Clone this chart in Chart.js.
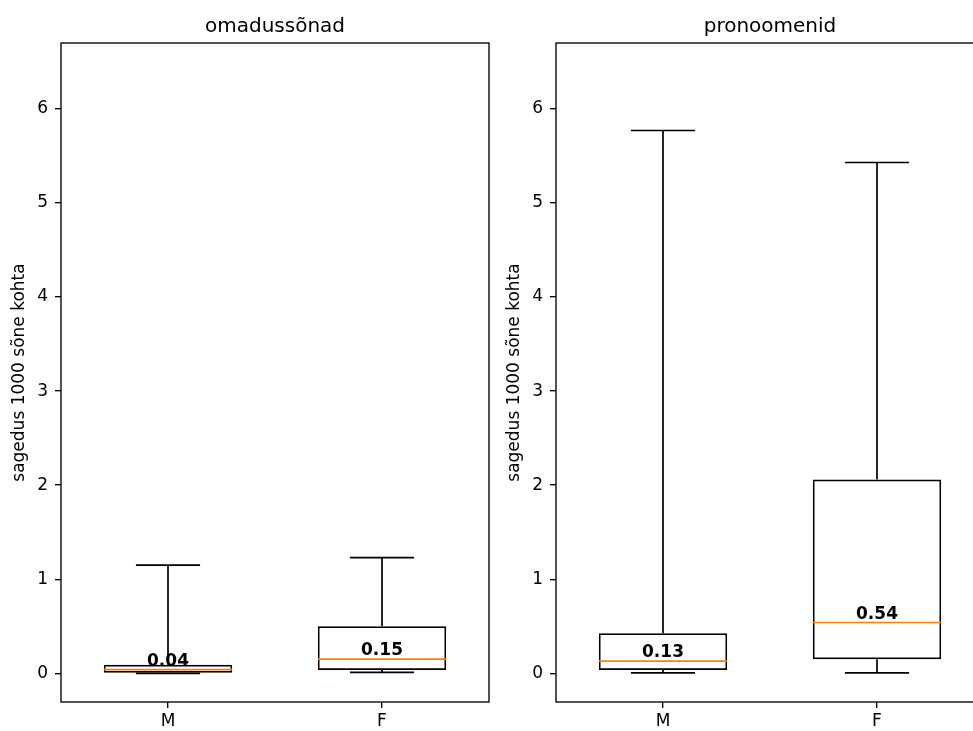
<!DOCTYPE html>
<html>
<head>
<meta charset="utf-8">
<script src="https://cdn.jsdelivr.net/npm/chart.js@4.4.1/dist/chart.umd.min.js"></script>
<style>
  html, body { margin: 0; padding: 0; background: #fff; overflow: hidden; }
  #wrap { position: relative; width: 973px; height: 731px; overflow: hidden; }
  .panel { position: absolute; top: 0; width: 490px; height: 731px; }
</style>
</head>
<body>
<div id="wrap">
  <div class="panel" style="left:0"><canvas id="adj"></canvas></div>
  <div class="panel" style="left:495px"><canvas id="pron"></canvas></div>
</div>
<script>
// --- data ---
const groups = ["M", "F"];
const yTicks = [0, 1, 2, 3, 4, 5, 6];
const yLabel = "sagedus 1000 sõne kohta";

// omadussõnad: whisker low, Q1, median, Q3, whisker high
const adjLow = [0.0, 0.01];
const adjQ1 = [0.0, 0.035];
const adjMedian = [0.04, 0.15];
const adjQ3 = [0.09, 0.5];
const adjHigh = [1.15, 1.23];

// pronoomenid
const pronLow = [0.005, 0.005];
const pronQ1 = [0.035, 0.15];
const pronMedian = [0.13, 0.54];
const pronQ3 = [0.425, 2.06];
const pronHigh = [5.77, 5.43];

const FONT = "DejaVu Sans";
Chart.defaults.font.family = FONT;
Chart.defaults.color = "#000";

// whiskers, caps, medians, median labels and the axes frame
const boxExtras = {
  id: "boxExtras",
  afterDatasetsDraw(chart, args, opts) {
    const { ctx, chartArea: a, scales: { y } } = chart;
    const bars = chart.getDatasetMeta(0).data;
    ctx.save();
    bars.forEach((bar, i) => {
      const half = bar.width / 2;
      const cap = bar.width / 4;
      const yLo = y.getPixelForValue(opts.low[i]);
      const yQ1 = y.getPixelForValue(opts.q1[i]);
      const yQ3 = y.getPixelForValue(opts.q3[i]);
      const yHi = y.getPixelForValue(opts.high[i]);
      const yMed = y.getPixelForValue(opts.median[i]);

      ctx.strokeStyle = "#000";
      ctx.lineWidth = 1.7;
      ctx.beginPath();
      ctx.moveTo(bar.x, yQ3); ctx.lineTo(bar.x, yHi);
      ctx.moveTo(bar.x, yQ1); ctx.lineTo(bar.x, yLo);
      ctx.moveTo(bar.x - cap, yHi); ctx.lineTo(bar.x + cap, yHi);
      ctx.moveTo(bar.x - cap, yLo); ctx.lineTo(bar.x + cap, yLo);
      ctx.stroke();

      ctx.strokeStyle = "#ff7f0e";
      ctx.beginPath();
      ctx.moveTo(bar.x - half, yMed); ctx.lineTo(bar.x + half, yMed);
      ctx.stroke();

      ctx.fillStyle = "#000";
      ctx.font = "bold 17px '" + FONT + "'";
      ctx.textAlign = "center";
      ctx.textBaseline = "alphabetic";
      ctx.fillText(opts.median[i].toFixed(2), bar.x, yMed - 4);
    });
    ctx.strokeStyle = "#000";
    ctx.lineWidth = 1.35;
    ctx.strokeRect(a.left, a.top, a.right - a.left, a.bottom - a.top);
    ctx.restore();
  }
};

function makePanel(id, title, low, q1, median, q3, high) {
  const ctx = document.getElementById(id).getContext("2d");
  return new Chart(ctx, {
    type: "bar",
    data: {
      labels: groups,
      datasets: [{
        data: q1.map((v, i) => [v, q3[i]]),
        backgroundColor: "rgba(0,0,0,0)",
        borderColor: "#000",
        borderWidth: 1.7,
        borderSkipped: false,
        barPercentage: 0.6,
        categoryPercentage: 1.0
      }]
    },
    options: {
      responsive: true,
      maintainAspectRatio: false,
      animation: false,
      layout: { padding: { left: 0, right: 1, top: 0, bottom: 0 } },
      plugins: {
        legend: { display: false },
        tooltip: { enabled: false },
        title: {
          display: true,
          text: title,
          fullSize: false,
          font: { size: 20, weight: "normal" },
          color: "#000",
          padding: { top: 15, bottom: 4 }
        },
        boxExtras: { low, q1, median, q3, high }
      },
      scales: {
        x: {
          offset: true,
          grid: { offset: false, drawOnChartArea: false, drawTicks: true, tickLength: 6, color: "#000", lineWidth: 1.35 },
          border: { display: false },
          ticks: { font: { size: 17 }, color: "#000", padding: 3 },
          afterFit: (s) => { s.height = 29; }
        },
        y: {
          min: -0.305,
          max: 6.7,
          afterBuildTicks: (s) => { s.ticks = yTicks.map((v) => ({ value: v })); },
          grid: { drawOnChartArea: false, drawTicks: true, tickLength: 6, color: "#000", lineWidth: 1.35 },
          border: { display: false },
          ticks: { font: { size: 17 }, color: "#000", padding: 7 },
          title: { display: true, text: yLabel, font: { size: 17 }, color: "#000", padding: { top: 9, bottom: 0 } },
          afterFit: (s) => { s.width = 61; }
        }
      }
    },
    plugins: [boxExtras]
  });
}

makePanel("adj", "omadussõnad", adjLow, adjQ1, adjMedian, adjQ3, adjHigh);
makePanel("pron", "pronoomenid", pronLow, pronQ1, pronMedian, pronQ3, pronHigh);
</script>
</body>
</html>
